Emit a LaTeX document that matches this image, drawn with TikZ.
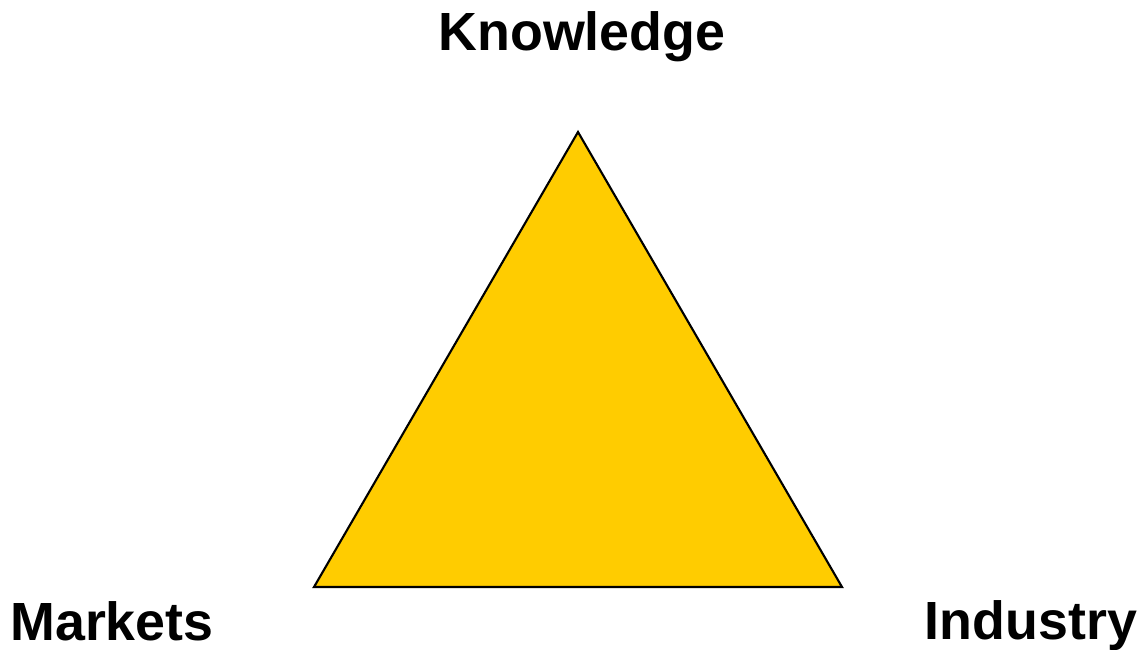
\documentclass[tikz,border=0pt]{standalone}
\usepackage{fontspec}
\setmainfont{Liberation Sans}
\usetikzlibrary{positioning}
\definecolor{triyellow}{HTML}{FFCC00}

\begin{document}
\begin{tikzpicture}[
    every node/.style={font=\fontsize{15.3}{18}\selectfont\bfseries, inner sep=0pt},
    corner/.style={anchor=base},
    tri/.style={draw=black, fill=triyellow, line width=0.6pt, line join=miter}
]
    \useasboundingbox (0,0) rectangle (11.4,6.49);

    \coordinate (top)   at (5.78,5.17);
    \coordinate (left)  at (3.14,0.62);
    \coordinate (right) at (8.42,0.62);

    \draw[tri] (top) -- (left) -- (right) -- cycle;

    \node[corner] (know) at (5.82,5.98)  {Knowledge};
    \node[corner] (mkt)  at (1.12,0.09)  {Markets};
    \node[corner] (ind)  at (10.31,0.10) {Industry};
\end{tikzpicture}
\end{document}
